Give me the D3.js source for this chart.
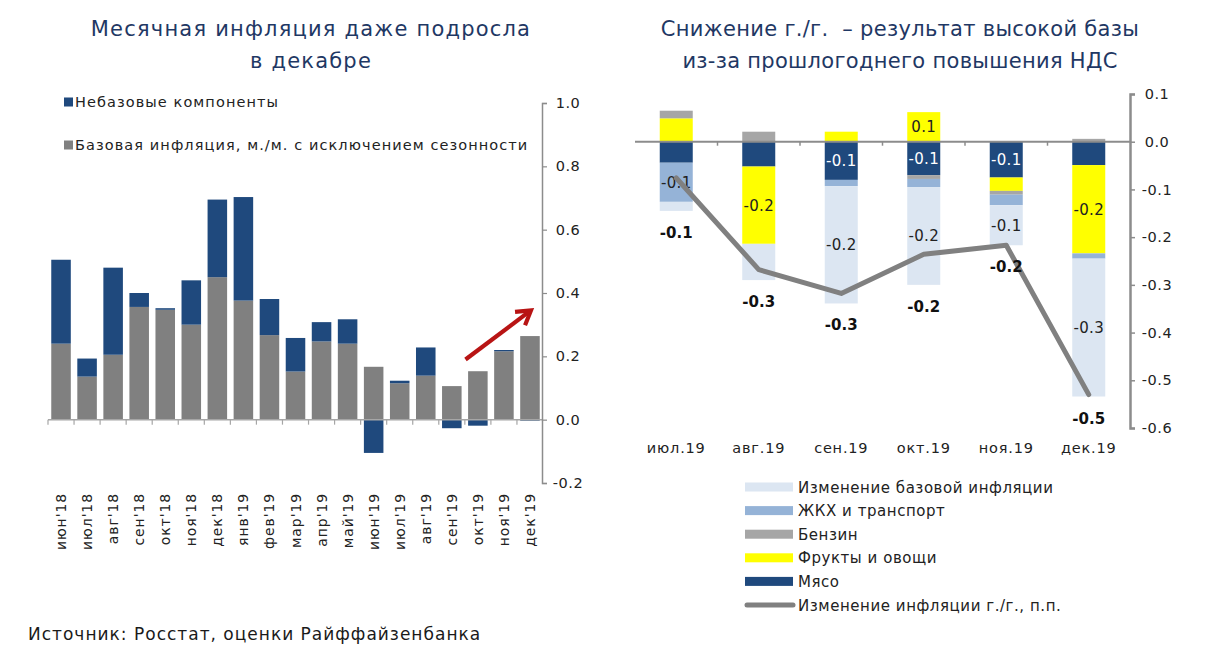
<!DOCTYPE html>
<html><head><meta charset="utf-8">
<script src="https://cdn.jsdelivr.net/npm/d3@7"></script>
<style>
html,body{margin:0;padding:0;background:#fff;}
svg{display:block;font-family:"DejaVu Sans",sans-serif;}
</style></head>
<body>
<svg id="c" width="1209" height="659"></svg>
<script>
// ---------- LEFT CHART DATA ----------
const monthsL = ["июн'18","июл'18","авг'18","сен'18","окт'18","ноя'18","дек'18","янв'19","фев'19","мар'19","апр'19","май'19","июн'19","июл'19","авг'19","сен'19","окт'19","ноя'19","дек'19"];
const coreL    = [0.240,0.136,0.205,0.356,0.347,0.300,0.450,0.376,0.267,0.152,0.247,0.240,0.167,0.115,0.139,0.106,0.153,0.216,0.264];
const nonCoreL = [0.265,0.057,0.275,0.044,0.005,0.140,0.245,0.327,0.114,0.106,0.061,0.077,-0.105,0.008,0.089,-0.027,-0.019,0.004,-0.003];
const ticksL = [1.0,0.8,0.6,0.4,0.2,0.0,-0.2];
const legendL = ["Небазовые компоненты","Базовая инфляция, м./м. с исключением сезонности"];
const titleL = ["Месячная инфляция даже подросла","в декабре"];

// ---------- RIGHT CHART DATA ----------
const monthsR = ["июл.19","авг.19","сен.19","окт.19","ноя.19","дек.19"];
const meat    = [-0.044,-0.052,-0.080,-0.070,-0.075,-0.049];
const fruit   = [0.049,-0.162,0.021,0.062,-0.028,-0.185];
const petrol  = [0.016,0.021,0.000,-0.008,-0.008,0.006];
const housing = [-0.082,0.000,-0.013,-0.017,-0.022,-0.011];
const coreR   = [-0.019,-0.076,-0.246,-0.205,-0.084,-0.289];
const totalR  = [-0.076,-0.268,-0.318,-0.236,-0.217,-0.530];
const ticksR = [0.1,0.0,-0.1,-0.2,-0.3,-0.4,-0.5,-0.6];
const seriesNames = {core:"Изменение базовой инфляции",housing:"ЖКХ и транспорт",petrol:"Бензин",fruit:"Фрукты и овощи",meat:"Мясо",total:"Изменение инфляции г./г., п.п."};
const hiddenLabels = [["core","авг.19"]];
const titleR = ["Снижение г./г.  – результат высокой базы","из-за прошлогоднего повышения НДС"];
const source = "Источник: Росстат, оценки Райффайзенбанка";

const svg = d3.select("#c");
const navy = "#1f497d", grayCore = "#808080", titleColor = "#1f3864", axisGray = "#8c8c8c";
const loc = d3.formatLocale({decimal:".",thousands:",",grouping:[3],currency:["",""],minus:"-"});
const fmt = loc.format(".1f");

// ================= LEFT =================
const xL = d3.scaleBand().domain(monthsL).range([48,543]).paddingInner(0.25).paddingOuter(0.125);
const yL = d3.scaleLinear().domain([-0.2,1.0]).range([483,103]);
const gL = svg.append("g");

gL.selectAll("text.tl").data(titleL).join("text")
  .attr("x",311).attr("y",(d,i)=>36+i*32).attr("text-anchor","middle")
  .attr("font-size",21).attr("letter-spacing",1.2).attr("fill",titleColor).text(d=>d);

// legend
const legColL = [navy, grayCore];
legendL.forEach((t,i)=>{
  const y = 102 + i*43;
  gL.append("rect").attr("x",64).attr("y",y-4.5).attr("width",9).attr("height",9).attr("fill",legColL[i]);
  gL.append("text").attr("x",75).attr("y",y+5).attr("font-size",14.5).attr("letter-spacing",1.08).attr("fill","#222").text(t);
});

const dL = monthsL.map((m,i)=>({m,core:coreL[i],nc:nonCoreL[i]}));
gL.selectAll("rect.core").data(dL).join("rect")
  .attr("x",d=>xL(d.m)).attr("width",xL.bandwidth())
  .attr("y",d=>yL(Math.max(0,d.core))).attr("height",d=>Math.abs(yL(d.core)-yL(0)))
  .attr("fill",grayCore);
gL.selectAll("rect.nc").data(dL).join("rect")
  .attr("x",d=>xL(d.m)).attr("width",xL.bandwidth())
  .attr("y",d=> d.nc>=0 ? yL(d.core+d.nc) : yL(0))
  .attr("height",d=> Math.max(1, d.nc>=0 ? yL(d.core)-yL(d.core+d.nc) : yL(d.nc)-yL(0)))
  .attr("fill",navy);

// zero axis with ticks at band boundaries
const y0L = yL(0);
gL.append("line").attr("x1",48).attr("x2",543).attr("y1",y0L).attr("y2",y0L).attr("stroke","#a6a6a6").attr("stroke-width",1.5);
d3.range(monthsL.length).forEach(i=>{
  const x = 48 + i*xL.step();
  gL.append("line").attr("x1",x).attr("x2",x).attr("y1",y0L).attr("y2",y0L+5).attr("stroke","#a6a6a6").attr("stroke-width",1.2);
});
// y axis (right)
const axL = gL.append("g").attr("transform","translate(542,0)")
  .call(d3.axisRight(yL).tickValues(ticksL).tickFormat(fmt).tickSize(5).tickPadding(0));
axL.select(".domain").attr("stroke",axisGray).attr("stroke-width",1.5);
axL.selectAll(".tick line").attr("stroke",axisGray).attr("stroke-width",1.2);
axL.selectAll(".tick text").attr("x",26).attr("text-anchor","middle").attr("font-size",14.5).attr("letter-spacing",0.5).attr("fill","#222").attr("font-family","DejaVu Sans");

// x labels rotated
gL.selectAll("text.xl").data(monthsL).join("text")
  .attr("transform",d=>`translate(${xL(d)+xL.bandwidth()/2+5},493) rotate(-90)`)
  .attr("text-anchor","end").attr("font-size",14).attr("letter-spacing",0.9).attr("fill","#222").text(d=>d);

// red arrow with open chevron head
const arrowFrom = ["сен'19",0.19], arrowTo = ["дек'19",0.345];
const ax1 = xL(arrowFrom[0])+xL.bandwidth()*1.2, ay1 = yL(arrowFrom[1]);
const ax2 = xL(arrowTo[0])+xL.bandwidth()*0.55, ay2 = yL(arrowTo[1]);
gL.append("line").attr("x1",ax1).attr("y1",ay1).attr("x2",ax2-1.5).attr("y2",ay2+1)
  .attr("stroke","#b81414").attr("stroke-width",4.2);
const ang = Math.atan2(ay2-ay1, ax2-ax1), hl = 16, spread = 0.55;
gL.append("path")
  .attr("d",`M${ax2-hl*Math.cos(ang-spread)},${ay2-hl*Math.sin(ang-spread)} L${ax2},${ay2} L${ax2-hl*Math.cos(ang+spread)},${ay2-hl*Math.sin(ang+spread)}`)
  .attr("fill","none").attr("stroke","#b81414").attr("stroke-width",4.2).attr("stroke-linejoin","miter");

// ================= RIGHT =================
const gR = svg.append("g");
gR.selectAll("text.tr").data(titleR).join("text")
  .attr("x",900).attr("y",(d,i)=>36+i*32).attr("text-anchor","middle").attr("xml:space","preserve")
  .attr("font-size",21).attr("letter-spacing",0.3).attr("fill",titleColor).text(d=>d);

const xR = d3.scaleBand().domain(monthsR).range([635,1130]).paddingInner(0.6).paddingOuter(0.3);
const yR = d3.scaleLinear().domain([-0.6,0.1]).range([428,94]);
const keys = ["meat","fruit","petrol","housing","core"];
const colors = {meat:"#1f497d",fruit:"#ffff00",petrol:"#a6a6a6",housing:"#95b3d7",core:"#dce6f2"};
const vals = {meat,fruit,petrol,housing,core:coreR};
const rows = monthsR.map((m,i)=>{const o={m}; keys.forEach(k=>o[k]=vals[k][i]); return o;});
const stacked = d3.stack().keys(keys).offset(d3.stackOffsetDiverging)(rows);

const layers = gR.selectAll("g.layer").data(stacked).join("g").attr("fill",d=>colors[d.key]);
layers.selectAll("rect").data(d=>d.map(p=>({p,key:d.key}))).join("rect")
  .attr("x",d=>xR(d.p.data.m)).attr("width",xR.bandwidth())
  .attr("y",d=>yR(d.p[1])).attr("height",d=>yR(d.p[0])-yR(d.p[1]));

// zero line
const y0R = yR(0);
gR.append("line").attr("x1",635).attr("x2",1130).attr("y1",y0R).attr("y2",y0R).attr("stroke","#8c8c8c").attr("stroke-width",2);
d3.range(1,monthsR.length).forEach(i=>{
  const x = 635 + i*xR.step();
  gR.append("line").attr("x1",x).attr("x2",x).attr("y1",y0R).attr("y2",y0R+4).attr("stroke","#8c8c8c").attr("stroke-width",1.5);
});

// segment labels
const isHidden = (k,m)=>hiddenLabels.some(h=>h[0]===k&&h[1]===m);
stacked.forEach(layer=>{
  layer.forEach(p=>{
    const v = p.data[layer.key];
    if (Math.abs(v) < 0.055 || isHidden(layer.key,p.data.m)) return;
    gR.append("text").attr("x",xR(p.data.m)+xR.bandwidth()/2).attr("y",(yR(p[0])+yR(p[1]))/2+5.5)
      .attr("text-anchor","middle").attr("font-size",15).attr("letter-spacing",0.3)
      .attr("fill",layer.key==="meat"?"#fff":"#222").text(fmt(v));
  });
});

// total line
const lineGen = d3.line().x((d,i)=>xR(monthsR[i])+xR.bandwidth()/2).y(d=>yR(d));
gR.append("path").datum(totalR).attr("d",lineGen).attr("fill","none")
  .attr("stroke","#808080").attr("stroke-width",5).attr("stroke-linejoin","round").attr("stroke-linecap","round");

// total labels (below bar bottom)
totalR.forEach((v,i)=>{
  const m = monthsR[i];
  const bottom = Math.max(...stacked.map(l=>yR(l[i][0])), ...stacked.map(l=>yR(l[i][1])), yR(v));
  gR.append("text").attr("x",xR(m)+xR.bandwidth()/2).attr("y",bottom+27)
    .attr("text-anchor","middle").attr("font-size",15).attr("font-weight","bold").attr("fill","#111").text(fmt(v));
});

// right axis
const axR = gR.append("g").attr("transform","translate(1130,0)")
  .call(d3.axisRight(yR).tickValues(ticksR).tickFormat(fmt).tickSize(5).tickPadding(0));
axR.select(".domain").attr("stroke","#8c8c8c").attr("stroke-width",2.5);
axR.selectAll(".tick line").attr("stroke","#8c8c8c").attr("stroke-width",1.5);
axR.selectAll(".tick text").attr("x",27).attr("text-anchor","middle").attr("font-size",14.5).attr("letter-spacing",0.5).attr("fill","#222").attr("font-family","DejaVu Sans");

// x labels
gR.selectAll("text.xr").data(monthsR).join("text")
  .attr("x",d=>xR(d)+xR.bandwidth()/2).attr("y",453).attr("text-anchor","middle")
  .attr("font-size",14.5).attr("letter-spacing",0.8).attr("fill","#222").text(d=>d);

// legend
const legKeys = ["core","housing","petrol","fruit","meat","total"];
legKeys.forEach((k,i)=>{
  const y = 487 + i*23.6;
  if (k==="total") {
    gR.append("line").attr("x1",747).attr("x2",793).attr("y1",y).attr("y2",y).attr("stroke","#808080").attr("stroke-width",5).attr("stroke-linecap","round");
  } else {
    gR.append("rect").attr("x",745).attr("y",y-4.5).attr("width",48).attr("height",9).attr("fill",colors[k]);
  }
  gR.append("text").attr("x",798).attr("y",y+5.5).attr("font-size",15).attr("letter-spacing",0.55).attr("fill","#222").text(seriesNames[k]);
});

// source
svg.append("text").attr("x",28).attr("y",640).attr("font-size",17).attr("letter-spacing",1.0).attr("fill","#1a1a1a").text(source);
</script>
</body></html>
